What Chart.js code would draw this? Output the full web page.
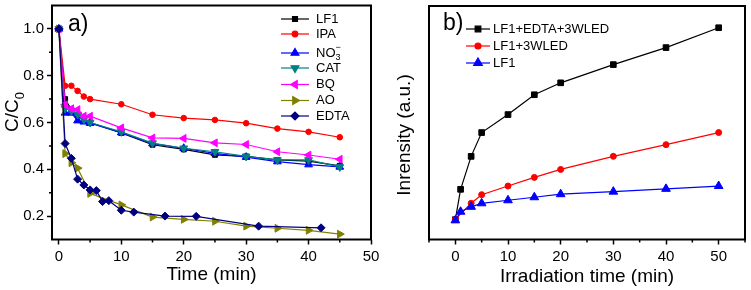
<!DOCTYPE html>
<html>
<head>
<meta charset="utf-8">
<script src="https://cdn.jsdelivr.net/npm/chart.js@4.4.1/dist/chart.umd.min.js"></script>
<style>
  body { margin: 0; background: #fff; }
  #wrap { position: relative; width: 751px; height: 290px; }
  canvas { position: absolute; top: 0; }
</style>
</head>
<body>
<div id="wrap">
  <canvas id="chartA" width="380" height="290" style="left:0px"></canvas>
  <canvas id="chartB" width="371" height="290" style="left:380px"></canvas>
</div>
<script>
// ---- panel a) : C/C0 vs time ----
const timeA = [0, 1, 2, 3, 4, 5, 10, 15, 20, 25, 30, 35, 40, 45];
const lf1A  = [1.0, 0.70, 0.655, 0.63, 0.615, 0.60, 0.555, 0.505, 0.485, 0.462, 0.455, 0.44, 0.435, 0.415];
const ipaA  = [1.0, 0.757, 0.757, 0.735, 0.711, 0.70, 0.678, 0.633, 0.619, 0.611, 0.597, 0.574, 0.56, 0.537];
const no3A  = [1.0, 0.641, 0.641, 0.608, 0.603, 0.597, 0.557, 0.51, 0.49, 0.468, 0.452, 0.433, 0.42, 0.41];
const catA  = [1.0, 0.66, 0.65, 0.635, 0.612, 0.60, 0.56, 0.512, 0.49, 0.475, 0.455, 0.44, 0.44, 0.41];
const bqA   = [1.0, 0.676, 0.659, 0.655, 0.627, 0.627, 0.577, 0.534, 0.532, 0.513, 0.506, 0.475, 0.461, 0.443];
const timeAO = [0, 1, 2, 3, 5, 10, 15, 20, 25, 30, 35, 40, 45];
const aoA    = [1.0, 0.467, 0.428, 0.405, 0.297, 0.248, 0.196, 0.186, 0.178, 0.157, 0.148, 0.139, 0.123];
const timeEDTA = [0, 1, 2, 3, 4, 5, 6, 7, 8, 10, 12, 17, 22, 32, 42];
const edtaA    = [1.0, 0.51, 0.447, 0.358, 0.333, 0.312, 0.309, 0.262, 0.266, 0.225, 0.217, 0.20, 0.199, 0.157, 0.15];

const xTicksA = [0, 10, 20, 30, 40, 50];
const xMinorA = [5, 15, 25, 35, 45];
const yTicksA = [0.2, 0.4, 0.6, 0.8, 1.0];
const yMinorA = [0.3, 0.5, 0.7, 0.9];

// ---- panel b) : intensity vs irradiation time ----
const timeB   = [0, 1, 3, 5, 10, 15, 20, 30, 40, 50];
const edtaLedB = [8.5, 21.5, 35.6, 45.8, 53.5, 62.0, 67.1, 74.9, 82.2, 90.7];
const timeLedB = [0, 3, 5, 10, 15, 20, 30, 40, 50];
const ledB     = [8.6, 15.5, 19.2, 22.9, 26.6, 30.0, 35.6, 40.6, 45.8];
const lf1B     = [8.2, 11.9, 14.0, 15.5, 16.8, 18.1, 19.4, 20.5, 21.7, 22.9];

const xTicksB = [0, 10, 20, 30, 40, 50];
const xMinorB = [-5, 5, 15, 25, 35, 45, 55];

const FONT = "'Liberation Sans', Arial, sans-serif";

function pts(xs, ys) {
  return ys.map((y, i) => ({ x: xs[i], y: y }));
}

function series(label, xs, ys, color, style, radius, rotation, order) {
  return {
    label: label,
    data: pts(xs, ys),
    borderColor: color,
    backgroundColor: color,
    borderWidth: 1.2,
    pointStyle: style,
    pointRadius: radius,
    pointRotation: rotation,
    pointBorderWidth: 1,
    pointBackgroundColor: color,
    order: order
  };
}

// text with _sub and ^sup characters
function richParts(text) {
  const parts = [];
  let i = 0;
  while (i < text.length) {
    const c = text[i];
    if ((c === '_' || c === '^') && i + 1 < text.length) {
      parts.push({ s: text[i + 1], kind: c });
      i += 2;
    } else {
      const last = parts[parts.length - 1];
      if (last && last.kind === '') last.s += c;
      else parts.push({ s: c, kind: '' });
      i++;
    }
  }
  return parts;
}

function drawRich(ctx, text, x, y, size, measureOnly) {
  const parts = richParts(text);
  let cx = x, subStart = null, subW = 0;
  parts.forEach((p, k) => {
    if (p.kind === '') {
      ctx.font = size + 'px ' + FONT;
      if (!measureOnly) ctx.fillText(p.s, cx, y);
      cx += ctx.measureText(p.s).width;
    } else {
      const small = Math.round(size * 0.7);
      ctx.font = small + 'px ' + FONT;
      const w = ctx.measureText(p.s).width;
      let px = cx;
      if (p.kind === '^' && k > 0 && parts[k - 1].kind === '_') px = subStart;
      const dy = p.kind === '_' ? size * 0.38 : -size * 0.4;
      if (!measureOnly) ctx.fillText(p.s, px, y + dy);
      if (p.kind === '_') { subStart = cx; subW = w; cx += w; }
      else if (px === subStart) { cx = subStart + Math.max(subW, w); }
      else cx += w;
    }
  });
  return cx - x;
}

function drawMinor(ctx, scale, values, len) {
  ctx.beginPath();
  values.forEach(v => {
    const p = scale.getPixelForValue(v);
    if (scale.isHorizontal()) {
      ctx.moveTo(p, scale.top);
      ctx.lineTo(p, scale.top + len);
    } else {
      ctx.moveTo(scale.right - len, p);
      ctx.lineTo(scale.right, p);
    }
  });
  ctx.stroke();
}

function decorPlugin(cfg) {
  return {
    id: 'decor',
    afterDraw(chart) {
      const ctx = chart.ctx;
      const a = chart.chartArea;
      ctx.save();
      ctx.strokeStyle = '#000';
      ctx.fillStyle = '#000';
      // frame
      ctx.lineWidth = 2;
      ctx.strokeRect(a.left, a.top, a.right - a.left, a.bottom - a.top);
      // minor ticks
      ctx.lineWidth = 1.5;
      drawMinor(ctx, chart.scales.x, cfg.xMinor, 3);
      if (cfg.yMinor) drawMinor(ctx, chart.scales.y, cfg.yMinor, 3);
      // panel letter
      ctx.textBaseline = 'middle';
      ctx.textAlign = 'left';
      ctx.font = '23px ' + FONT;
      ctx.fillText(cfg.letter, cfg.letterX, cfg.letterY);
      // y title, rotated
      ctx.save();
      ctx.translate(cfg.yTitleX, cfg.yTitleY);
      ctx.rotate(-Math.PI / 2);
      const w = drawRich(ctx, cfg.yTitle, 0, 0, 19, true);
      drawRich(ctx, cfg.yTitle, -w / 2, 0, 19, false);
      ctx.restore();
      // legend
      chart.data.datasets.forEach((ds, i) => {
        const y = cfg.legendY[i];
        ctx.strokeStyle = ds.borderColor;
        ctx.lineWidth = 1.2;
        ctx.beginPath();
        ctx.moveTo(cfg.legendX, y);
        ctx.lineTo(cfg.legendX + cfg.legendLen, y);
        ctx.stroke();
        ctx.fillStyle = ds.backgroundColor;
        Chart.helpers.drawPoint(ctx, {
          pointStyle: ds.pointStyle,
          radius: ds.pointRadius,
          rotation: ds.pointRotation,
          borderWidth: 1
        }, cfg.legendX + cfg.legendLen / 2, y);
        ctx.fillStyle = '#000';
        ctx.textBaseline = 'middle';
        drawRich(ctx, ds.label, cfg.legendX + cfg.legendLen + cfg.legendGap, y, 13, false);
      });
      ctx.restore();
    }
  };
}

function axisOpts(min, max, tickVals, fmt) {
  return {
    type: 'linear',
    min: min,
    max: max,
    afterBuildTicks: s => { s.ticks = tickVals.map(v => ({ value: v })); },
    grid: { drawOnChartArea: false, drawTicks: true, tickLength: 5, tickColor: '#000', tickWidth: 1.5 },
    border: { display: false },
    ticks: {
      color: '#000',
      font: { family: FONT, size: 15 },
      padding: 3,
      maxRotation: 0,
      autoSkip: false,
      callback: fmt
    }
  };
}

function noPad(s) {
  s.paddingTop = 0; s.paddingBottom = 0; s.paddingLeft = 0; s.paddingRight = 0;
}

// ---- chart a ----
const xA = axisOpts(-1.1, 50, xTicksA, v => String(v));
xA.afterFit = s => { s.height = 50.5; noPad(s); };
xA.title = { display: true, text: 'Time (min)', color: '#000', font: { family: FONT, size: 19 }, padding: { top: 0, bottom: 4 } };
const yA = axisOpts(0.1, 1.1, yTicksA, v => v.toFixed(1));
yA.afterFit = s => { s.width = 52; noPad(s); };

new Chart(document.getElementById('chartA'), {
  type: 'line',
  data: {
    datasets: [
      series('LF1', timeA, lf1A, '#000000', 'rect', 3.5, 0, 7),
      series('IPA', timeA, ipaA, '#ff0000', 'circle', 2.8, 0, 6),
      series('NO_3^\u2212', timeA, no3A, '#0000ff', 'triangle', 4.5, 0, 5),
      series('CAT', timeA, catA, '#008080', 'triangle', 4.5, 180, 4),
      series('BQ', timeA, bqA, '#ff00ff', 'triangle', 4.5, -90, 3),
      series('AO', timeAO, aoA, '#808000', 'triangle', 4.5, 90, 2),
      series('EDTA', timeEDTA, edtaA, '#000080', 'rectRot', 4, 0, 1)
    ]
  },
  options: {
    responsive: false,
    animation: false,
    devicePixelRatio: 1,
    layout: { padding: { top: 4, right: 9, left: 0, bottom: 0 } },
    plugins: { legend: { display: false }, tooltip: { enabled: false } },
    elements: { line: { tension: 0 } },
    scales: { x: xA, y: yA }
  },
  plugins: [decorPlugin({
    xMinor: xMinorA, yMinor: yMinorA,
    letter: 'a)', letterX: 68, letterY: 25,
    yTitle: 'C/C_0', yTitleX: 13, yTitleY: 112,
    legendX: 281, legendLen: 28, legendGap: 7,
    legendY: [19, 34, 53, 68, 84.5, 100.5, 116]
  })]
});

// ---- chart b ----
const xB = axisOpts(-5, 55, xTicksB, v => String(v));
xB.afterFit = s => { s.height = 50.5; noPad(s); };
xB.title = { display: true, text: 'Irradiation time (min)', color: '#000', font: { family: FONT, size: 19 }, padding: { top: 0, bottom: 2 } };
const yB = {
  type: 'linear', min: 0, max: 100,
  ticks: { display: false },
  grid: { display: false },
  border: { display: false },
  afterFit: s => { s.width = 49; noPad(s); }
};

new Chart(document.getElementById('chartB'), {
  type: 'line',
  data: {
    datasets: [
      series('LF1+EDTA+3WLED', timeB, edtaLedB, '#000000', 'rect', 4, 0, 3),
      series('LF1+3WLED', timeLedB, ledB, '#ff0000', 'circle', 3, 0, 2),
      series('LF1', timeB, lf1B, '#0000ff', 'triangle', 5, 0, 1)
    ]
  },
  options: {
    responsive: false,
    animation: false,
    devicePixelRatio: 1,
    layout: { padding: { top: 3, right: 5, left: 0, bottom: 0 } },
    plugins: { legend: { display: false }, tooltip: { enabled: false } },
    elements: { line: { tension: 0 } },
    scales: { x: xB, y: yB }
  },
  plugins: [decorPlugin({
    xMinor: xMinorB, yMinor: null,
    letter: 'b)', letterX: 63, letterY: 24,
    yTitle: 'Inrensity (a.u.)', yTitleX: 25, yTitleY: 135,
    legendX: 86, legendLen: 24, legendGap: 3,
    legendY: [29, 46, 63]
  })]
});
</script>
</body>
</html>
